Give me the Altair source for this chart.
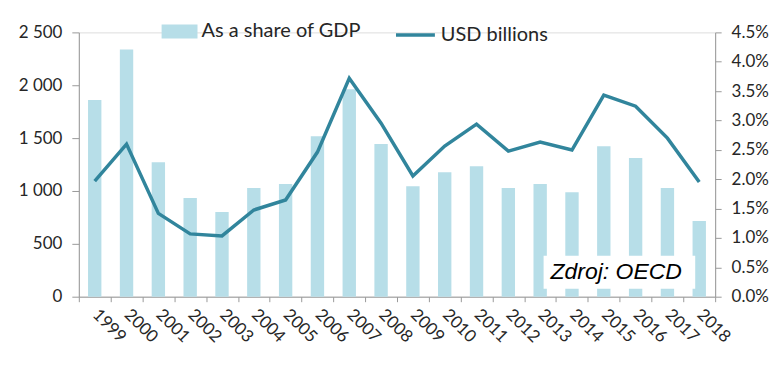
import altair as alt
import pandas as pd

years = ["1999", "2000", "2001", "2002", "2003", "2004", "2005", "2006", "2007", "2008",
         "2009", "2010", "2011", "2012", "2013", "2014", "2015", "2016", "2017", "2018"]
share_gdp = [3.35, 4.21, 2.29, 1.68, 1.44, 1.85, 1.92, 2.73, 3.53, 2.60,
             1.88, 2.12, 2.22, 1.85, 1.92, 1.78, 2.56, 2.36, 1.85, 1.29]
usd_bn = [1094, 1443, 788, 594, 575, 820, 915, 1368, 2066, 1641,
          1142, 1425, 1632, 1377, 1462, 1387, 1906, 1802, 1500, 1085]
series_names = ["As a share of GDP", "USD billions"]
left_ticks = [0, 500, 1000, 1500, 2000, 2500]
right_ticks = [0, 0.5, 1.0, 1.5, 2.0, 2.5, 3.0, 3.5, 4.0, 4.5]
note = ["Zdroj: OECD"]

FONT = "Lato"
TXT = "#262626"
AX = "#9a9a9a"
BAR = "#b7dee8"
LINE = "#31859c"

df = pd.DataFrame({
    "year": years,
    "share": share_gdp,
    "usd": usd_bn,
    "s1": series_names[0],
    "s2": series_names[1],
})
note_df = pd.DataFrame({"t": note})

x = alt.X(
    "year:O",
    scale=alt.Scale(paddingInner=0, paddingOuter=0),
    axis=alt.Axis(
        title=None, labelAngle=45, labelAlign="left", labelBaseline="middle",
        tickBand="extent", tickSize=5, labelPadding=10, domainColor=AX, tickColor=AX,
        labelFont=FONT, labelFontSize=17, labelColor=TXT, grid=False,
    ),
)

bars = alt.Chart(df).mark_bar(width=alt.RelativeBandSize(0.42)).encode(
    x=x,
    y=alt.Y(
        "share:Q",
        scale=alt.Scale(domain=[0, 4.5], nice=False),
        axis=alt.Axis(
            orient="right", title=None, values=right_ticks,
            labelExpr="format(datum.value, '.1f') + '%'",
            tickSize=6, labelPadding=10, domainColor=AX, tickColor=AX,
            labelFont=FONT, labelFontSize=17, labelColor=TXT, grid=False,
        ),
    ),
    fill=alt.Fill(
        "s1:N", scale=alt.Scale(range=[BAR]),
        legend=alt.Legend(
            title=None, orient="none", legendX=83, legendY=-19,
            symbolType="M-1,-0.39H1V0.39H-1Z", symbolSize=1296,
            symbolStrokeWidth=0, labelFont=FONT, labelFontSize=20, labelColor=TXT,
            labelOffset=4, padding=0,
        ),
    ),
)

box = alt.Chart(note_df).mark_rect(color="white").encode(
    x=alt.value(466), x2=alt.value(618), y=alt.value(224), y2=alt.value(257)
)
txt = alt.Chart(note_df).mark_text(
    font="Liberation Sans", fontStyle="italic", fontSize=23, color="black",
    align="left", baseline="alphabetic",
).encode(x=alt.value(473), y=alt.value(247), text="t:N")

line = alt.Chart(df).mark_line(strokeWidth=3.5).encode(
    x=x,
    y=alt.Y(
        "usd:Q",
        scale=alt.Scale(domain=[0, 2500], nice=False),
        axis=alt.Axis(
            orient="left", title=None, values=left_ticks,
            labelExpr="replace(format(datum.value, ','), ',', ' ')",
            tickSize=7, labelPadding=10, domainColor=AX, tickColor=AX,
            labelFont=FONT, labelFontSize=17, labelColor=TXT, grid=False,
        ),
    ),
    stroke=alt.Stroke(
        "s2:N", scale=alt.Scale(range=[LINE]),
        legend=alt.Legend(
            title=None, orient="none", legendX=316, legendY=-19,
            symbolType="stroke", symbolSize=1521, symbolStrokeWidth=3.5,
            labelFont=FONT, labelFontSize=20, labelColor=TXT,
            labelOffset=4, padding=0,
        ),
    ),
)

chart = alt.layer(bars, box, txt, line).resolve_scale(
    y="independent"
).properties(
    width=638, height=265,
    autosize=alt.AutoSizeParams(type="none"),
    padding={"left": 71, "top": 24, "right": 60, "bottom": 58},
).configure_view(stroke=None).configure(background="white")

chart.save("out.html", embed_options={"renderer": "svg", "actions": False})
